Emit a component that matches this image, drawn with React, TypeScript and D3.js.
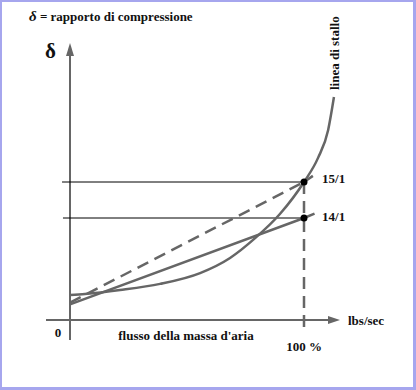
import * as d3 from "d3";
import { useEffect, useRef } from "react";

// flow in % of design mass flow, pressure ratio delta
const stallX = [0, 6.4, 21.4, 38.5, 55.6, 68.4, 79.1, 89.7, 100, 106, 110.3, 112.8];
const stallY = [11.86, 11.89, 12.0, 12.17, 12.47, 12.89, 13.44, 14.11, 15.0, 15.67, 16.44, 17.36];

const line14X = [0, 100, 104.5];
const line14Y = [11.6, 14.0, 14.12];

const line15X = [0, 100, 103.8];
const line15Y = [11.65, 15.0, 15.17];

const ratioValues = [15, 14];
const ratioLabels = ["15/1", "14/1"];

const W = 416;
const H = 390;
const gray = "#666666";
const font = "'Liberation Serif', 'Times New Roman', serif";

export default function App() {
  const ref = useRef<SVGSVGElement>(null);

  useEffect(() => {
    const svg = d3.select(ref.current);
    svg.selectAll("*").remove();

    const x = d3.scaleLinear().domain([0, 100]).range([70, 304]);
    const y = d3.scaleLinear().domain([11, 19]).range([326, 38]);

    // frame
    svg.append("rect").attr("width", W).attr("height", H).attr("fill", "#a6a6ee");
    svg.append("rect").attr("x", 2).attr("y", 2).attr("width", W - 5).attr("height", H - 5).attr("fill", "#ffffff");

    const yAxisX = x(0);
    const xAxisY = 320;

    // axes
    svg.append("line").attr("x1", yAxisX).attr("x2", yAxisX).attr("y1", 340).attr("y2", 52)
      .attr("stroke", gray).attr("stroke-width", 2);
    svg.append("path").attr("d", d3.line()([[yAxisX, 43], [yAxisX - 4, 56], [yAxisX + 4, 56]]) + "Z")
      .attr("fill", gray);
    svg.append("line").attr("x1", 46).attr("x2", 332).attr("y1", xAxisY).attr("y2", xAxisY)
      .attr("stroke", gray).attr("stroke-width", 2);
    svg.append("path").attr("d", d3.line()([[340, xAxisY], [328, xAxisY - 4], [328, xAxisY + 4]]) + "Z")
      .attr("fill", gray);

    // reference lines
    ratioValues.forEach((v, i) => {
      svg.append("line").attr("x1", x(-3.4 + i * 0.4)).attr("x2", x(100))
        .attr("y1", y(v)).attr("y2", y(v)).attr("stroke", "#000").attr("stroke-width", 1);
    });
    svg.append("line").attr("x1", x(100)).attr("x2", x(100)).attr("y1", y(15)).attr("y2", 329)
      .attr("stroke", gray).attr("stroke-width", 2.5).attr("stroke-dasharray", "12,7");

    const lineGen = d3.line<[number, number]>().x((d) => x(d[0])).y((d) => y(d[1]));

    svg.append("path")
      .attr("d", lineGen(line15X.map((v, i) => [v, line15Y[i]]) as [number, number][]))
      .attr("fill", "none").attr("stroke", gray).attr("stroke-width", 2.5).attr("stroke-dasharray", "12,7");
    svg.append("path")
      .attr("d", lineGen(line14X.map((v, i) => [v, line14Y[i]]) as [number, number][]))
      .attr("fill", "none").attr("stroke", gray).attr("stroke-width", 2.5);

    // stall line
    const curve = d3.line<[number, number]>().x((d) => x(d[0])).y((d) => y(d[1])).curve(d3.curveMonotoneX);
    svg.append("path")
      .attr("d", curve(stallX.map((v, i) => [v, stallY[i]]) as [number, number][]))
      .attr("fill", "none").attr("stroke", gray).attr("stroke-width", 2.5);

    // points
    svg.selectAll("circle.pt").data(ratioValues).enter().append("circle")
      .attr("class", "pt").attr("cx", x(100)).attr("cy", (d) => y(d)).attr("r", 3.5).attr("fill", "#000");

    const txt = (s: string, tx: number, ty: number, size = 13, anchor = "start") =>
      svg.append("text").attr("x", tx).attr("y", ty).attr("font-family", font).attr("font-weight", "bold")
        .attr("font-size", size).attr("text-anchor", anchor).attr("fill", "#111").text(s);

    ratioValues.forEach((v, i) => txt(ratioLabels[i], x(107.7), y(v) + 1 + i * 2));

    // title
    const t = svg.append("text").attr("x", 29).attr("y", 21).attr("font-family", font)
      .attr("font-weight", "bold").attr("font-size", 13).attr("fill", "#111");
    t.append("tspan").attr("font-style", "italic").attr("font-size", 15).text("δ");
    t.append("tspan").text(" = rapporto di compressione");

    txt("δ", 45, 58, 21);
    txt("0", 58, 337, 13, "middle");
    txt("flusso della massa d'aria", 186, 340, 13, "middle");
    txt("100 %", x(100), 351, 13, "middle");
    txt("lbs/sec", 348, 325, 13);

    svg.append("text").attr("transform", "translate(339,90) rotate(-90)")
      .attr("font-family", font).attr("font-weight", "bold").attr("font-size", 13).attr("fill", "#111")
      .text("linea di stallo");
  }, []);

  return (
    <svg ref={ref} width={W} height={H} style={{ position: "absolute", left: 0, top: 0 }} />
  );
}
